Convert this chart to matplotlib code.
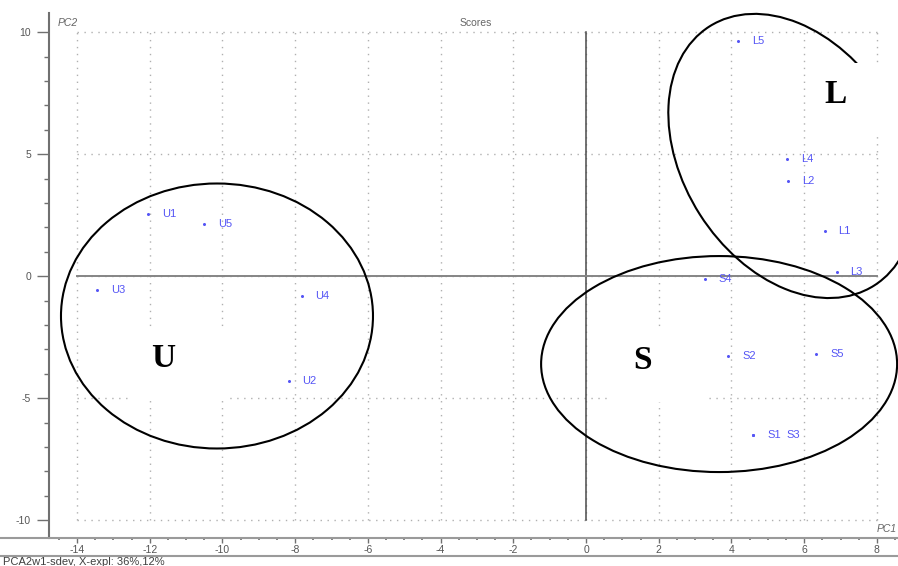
import matplotlib
matplotlib.use('Agg')
import matplotlib.pyplot as plt
import matplotlib.transforms as mtransforms
from matplotlib.patches import Ellipse, Rectangle
from matplotlib.lines import Line2D
from matplotlib.ticker import MultipleLocator

plt.rcParams['font.family'] = ['Liberation Sans', 'DejaVu Sans']
plt.rcParams['axes.unicode_minus'] = False

# PCA scores (PC1, PC2) per sample
names = ['U1', 'U2', 'U3', 'U4', 'U5',
         'S1', 'S2', 'S3', 'S4', 'S5',
         'L1', 'L2', 'L3', 'L4', 'L5']
pc1 = [-12.04, -8.18, -13.44, -7.82, -10.50,
       4.60, 3.91, 4.60, 3.27, 6.33,
       6.56, 5.56, 6.89, 5.52, 4.19]
pc2 = [2.57, -4.29, -0.55, -0.82, 2.16,
       -6.49, -3.28, -6.49, -0.12, -3.20,
       1.86, 3.91, 0.18, 4.80, 9.63]

# groups circled by hand on the score plot
groups = ['U', 'S', 'L']
group_cx = [-10.15, 3.66, 5.66]
group_cy = [-1.63, -3.60, 4.93]
group_tx = [-11.64, 1.54, 6.85]
group_ty = [-3.36, -3.44, 7.43]

blue = '#5555f5'
grey = '#555555'

fig = plt.figure(figsize=(8.98, 5.66), dpi=100)
ax = fig.add_axes([49 / 898, 28 / 566, 849 / 898, 525 / 566])
ax.set_xlim(-14.77, 8.58)
ax.set_ylim(-10.73, 10.79)

# dotted grid only over the tick range
ax.vlines(range(-14, 9, 2), -10, 10, color='#b0b0b0', lw=1,
          linestyle=(0, (1, 4)), zorder=1)
ax.hlines([-10, -5, 0, 5, 10], -14, 8, color='#b0b0b0', lw=1,
          linestyle=(0, (1, 4)), zorder=1)
ax.plot([0, 0], [-10, 10], color='#4a4a4a', lw=1.1, zorder=2)
ax.plot([-14, 8], [0, 0], color='#858585', lw=1.4, zorder=2)

ax.plot(pc1, pc2, 'o', color=blue, ms=2.2, mec='none', zorder=5)
for i, n in enumerate(names):
    dx = 24 if n == 'S3' else 10
    ax.annotate(n, (pc1[i], pc2[i]), xytext=(dx, 0), textcoords='offset points',
                ha='left', va='center', fontsize=8, color=blue, zorder=5)

# ellipses sized in inches so they keep their shape on the unequal axes
ell_size = [(3.12, 2.65, 0), (3.56, 2.16, 0), (3.07, 2.18, -57.5)]
for i, g in enumerate(groups):
    w, h, ang = ell_size[i]
    tr = fig.dpi_scale_trans + mtransforms.ScaledTranslation(group_cx[i], group_cy[i], ax.transData)
    ax.add_patch(Ellipse((0, 0), w, h, angle=ang, transform=tr, fill=False,
                         ec='black', lw=1.5, zorder=3, clip_on=False))

# white label boxes pasted over the plot
for x0, y0, x1, y1 in [(-12.6, -5.08, -9.9, -2.08), (0.6, -5.16, 3.27, -2.08),
                       (6.22, 5.71, 8.7, 8.74)]:
    ax.add_patch(Rectangle((x0, y0), x1 - x0, y1 - y0, fc='white', ec='none',
                           zorder=4, clip_on=False))
for i, g in enumerate(groups):
    ax.text(group_tx[i], group_ty[i], g, ha='center', va='center',
            family='Liberation Serif', fontweight='bold', fontsize=24,
            color='black', zorder=6)

for s in ['top', 'right', 'bottom']:
    ax.spines[s].set_visible(False)
ax.spines['left'].set_color('#707070')
ax.spines['left'].set_linewidth(1.5)

ax.set_xticks(range(-14, 9, 2))
ax.set_yticks([-10, -5, 0, 5, 10])
ax.xaxis.set_minor_locator(MultipleLocator(0.5))
ax.yaxis.set_minor_locator(MultipleLocator(1))
ax.tick_params(axis='y', which='major', length=8.6, width=1, color='#707070',
               labelsize=7.5, labelcolor=grey, pad=4.3)
ax.tick_params(axis='y', which='minor', length=3.6, width=1, color='#707070')
ax.tick_params(axis='x', which='major', length=3.5, width=1, color='#707070',
               labelsize=7.5, labelcolor=grey, pad=1.5)
ax.tick_params(axis='x', which='minor', length=1.4, width=1.2, color='#707070')

# axis rails running the full width
for yp in [538, 556]:
    fig.add_artist(Line2D([0, 1], [1 - yp / 566] * 2, transform=fig.transFigure,
                          color='#9a9a9a', lw=1.5))

fig.text(476 / 898, 1 - 23 / 566, 'Scores', ha='center', va='center',
         fontsize=7.5, color='#666666')
fig.text(58 / 898, 1 - 23 / 566, 'PC2', ha='left', va='center',
         fontsize=7.5, style='italic', color='#666666')
fig.text(897 / 898, 1 - 529 / 566, 'PC1', ha='right', va='center',
         fontsize=7.5, style='italic', color='#666666')
fig.text(3 / 898, 1 - 557 / 566, 'PCA2w1-sdev, X-expl: 36%,12%', ha='left',
         va='top', fontsize=8, color='#404040')

fig.savefig('out.png', dpi=100)
